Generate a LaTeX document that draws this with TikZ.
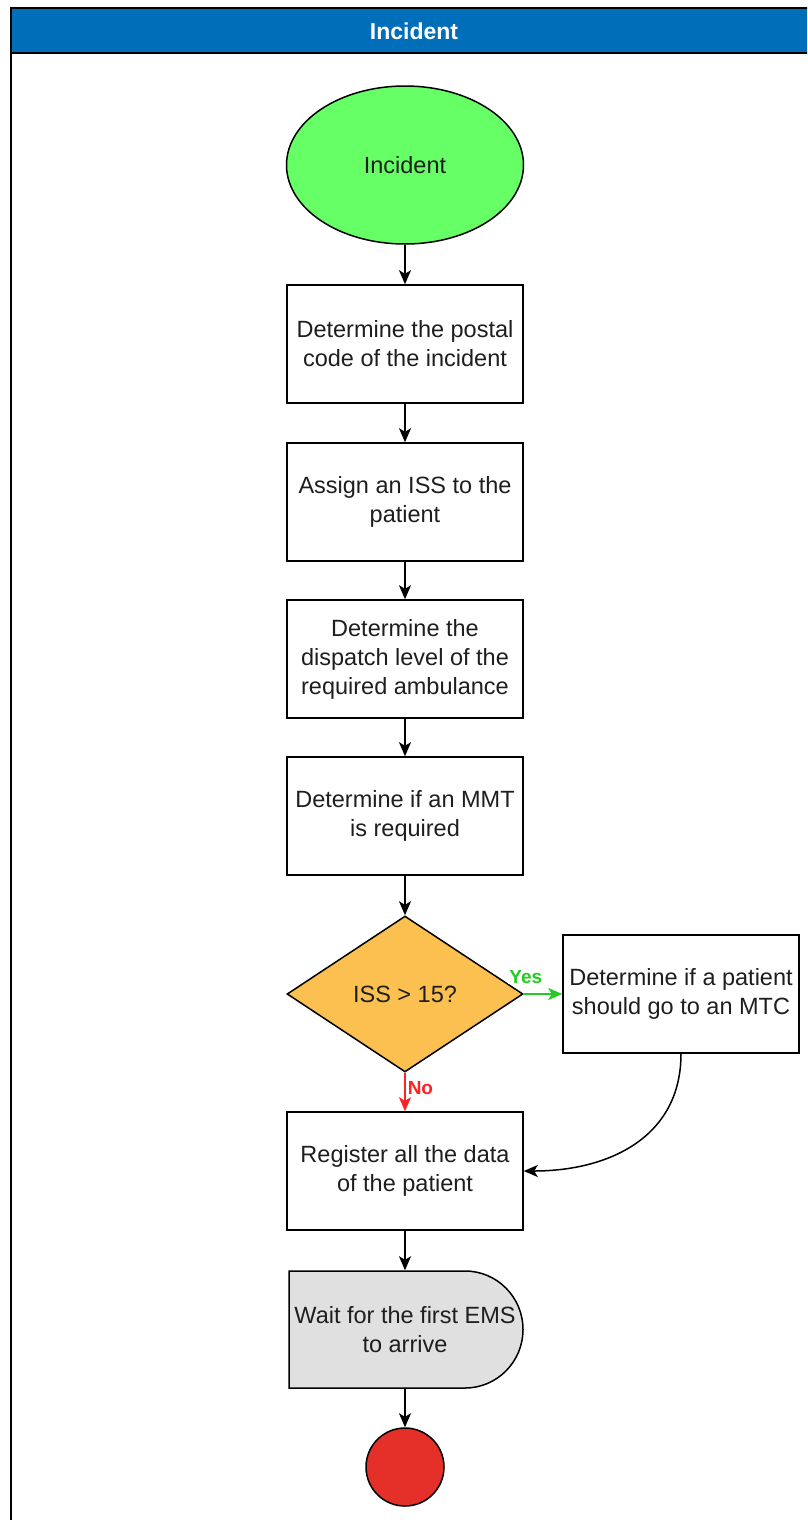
\documentclass[tikz,border=0pt]{standalone}
\usepackage{fontspec}
\setmainfont{Liberation Sans}
\usetikzlibrary{shapes.geometric,arrows.meta}
\definecolor{poolblue}{HTML}{006EB8}
\definecolor{startgreen}{HTML}{66FF66}
\definecolor{decorange}{HTML}{FBC04F}
\definecolor{waitgray}{HTML}{E0E0E0}
\definecolor{endred}{HTML}{E5302A}
\definecolor{yesgreen}{HTML}{22CC22}
\definecolor{nored}{HTML}{FF2222}
\definecolor{ink}{HTML}{1E1E1E}
\tikzset{
  base/.style={draw=black, line width=1.5pt, text=ink, align=center,
    font=\fontsize{23.5}{29}\selectfont},
  procbox/.style={base, rectangle, minimum width=236pt, minimum height=118pt, inner sep=2pt},
  flow/.style={line width=1.5pt, -{Stealth[length=14pt,width=12pt,inset=3.5pt]}},
  lbl/.style={font=\fontsize{19}{22}\selectfont\bfseries, inner sep=1pt}
}
\begin{document}
\begin{tikzpicture}[x=1pt,y=-1pt]
\useasboundingbox (0,0) rectangle (807,1520);
\begin{scope}
\clip (0,0) rectangle (807,1520);
% swimlane pool
\fill[poolblue] (11,8) rectangle (820,53);
\draw[line width=1.5pt] (11,1540) -- (11,8) -- (820,8);
\draw[line width=1.5pt] (11,53) -- (820,53);
\node[text=white, font=\fontsize{23}{28}\selectfont\bfseries] (title) at (414,31) {Incident};
\end{scope}

% nodes
\node[base, ellipse, fill=startgreen, minimum width=237pt, minimum height=158pt, inner sep=0pt] (start) at (405,165) {Incident};
\node[procbox] (postal) at (405,344) {Determine the postal\\code of the incident};
\node[procbox] (iss) at (405,502) {Assign an ISS to the\\patient};
\node[procbox] (dispatch) at (405,659) {Determine the\\dispatch level of the\\required ambulance};
\node[procbox] (mmt) at (405,816) {Determine if an MMT\\is required};
\node[base, diamond, fill=decorange, minimum width=236pt, minimum height=156pt, inner sep=0pt, aspect=1.5] (dec) at (405,994) {ISS > 15?};
\node[procbox] (mtc) at (681,994) {Determine if a patient\\should go to an MTC};
\node[procbox] (reg) at (405,1171) {Register all the data\\of the patient};
% delay shape
\draw[line width=1.5pt, fill=waitgray] (289,1271) -- (465,1271)
  arc[start angle=-90, end angle=0, x radius=58pt, y radius=-58.5pt]
  arc[start angle=0, end angle=90, x radius=58pt, y radius=-58.5pt]
  -- (289,1388) -- cycle;
\node[base, draw=none, inner sep=0pt, minimum width=234pt, minimum height=117pt] (wait) at (405,1329.5) {Wait for the first EMS\\to arrive};
\node[base, circle, fill=endred, minimum size=78pt, inner sep=0pt] (stop) at (405,1467) {};

% connectors
\draw[flow] (start) -- (postal);
\draw[flow] (postal) -- (iss);
\draw[flow] (iss) -- (dispatch);
\draw[flow] (dispatch) -- (mmt);
\draw[flow] (mmt) -- (dec);
\draw[flow, draw=yesgreen, color=yesgreen] (dec.east) -- (mtc.west)
  node[lbl, text=yesgreen, fill=white, pos=0, anchor=south, xshift=2pt, yshift=9pt] (yes) {Yes};
\draw[flow, draw=nored, color=nored] (dec.south) -- (reg.north)
  node[lbl, text=nored, pos=0.4, anchor=west, xshift=1pt] (no) {No};
\draw[flow] (mtc.south) to[out=-90, in=0, looseness=1.1] (reg.east);
\draw[flow] (reg) -- (wait.north);
\draw[flow] (wait.south) -- (stop);
\end{tikzpicture}
\end{document}
